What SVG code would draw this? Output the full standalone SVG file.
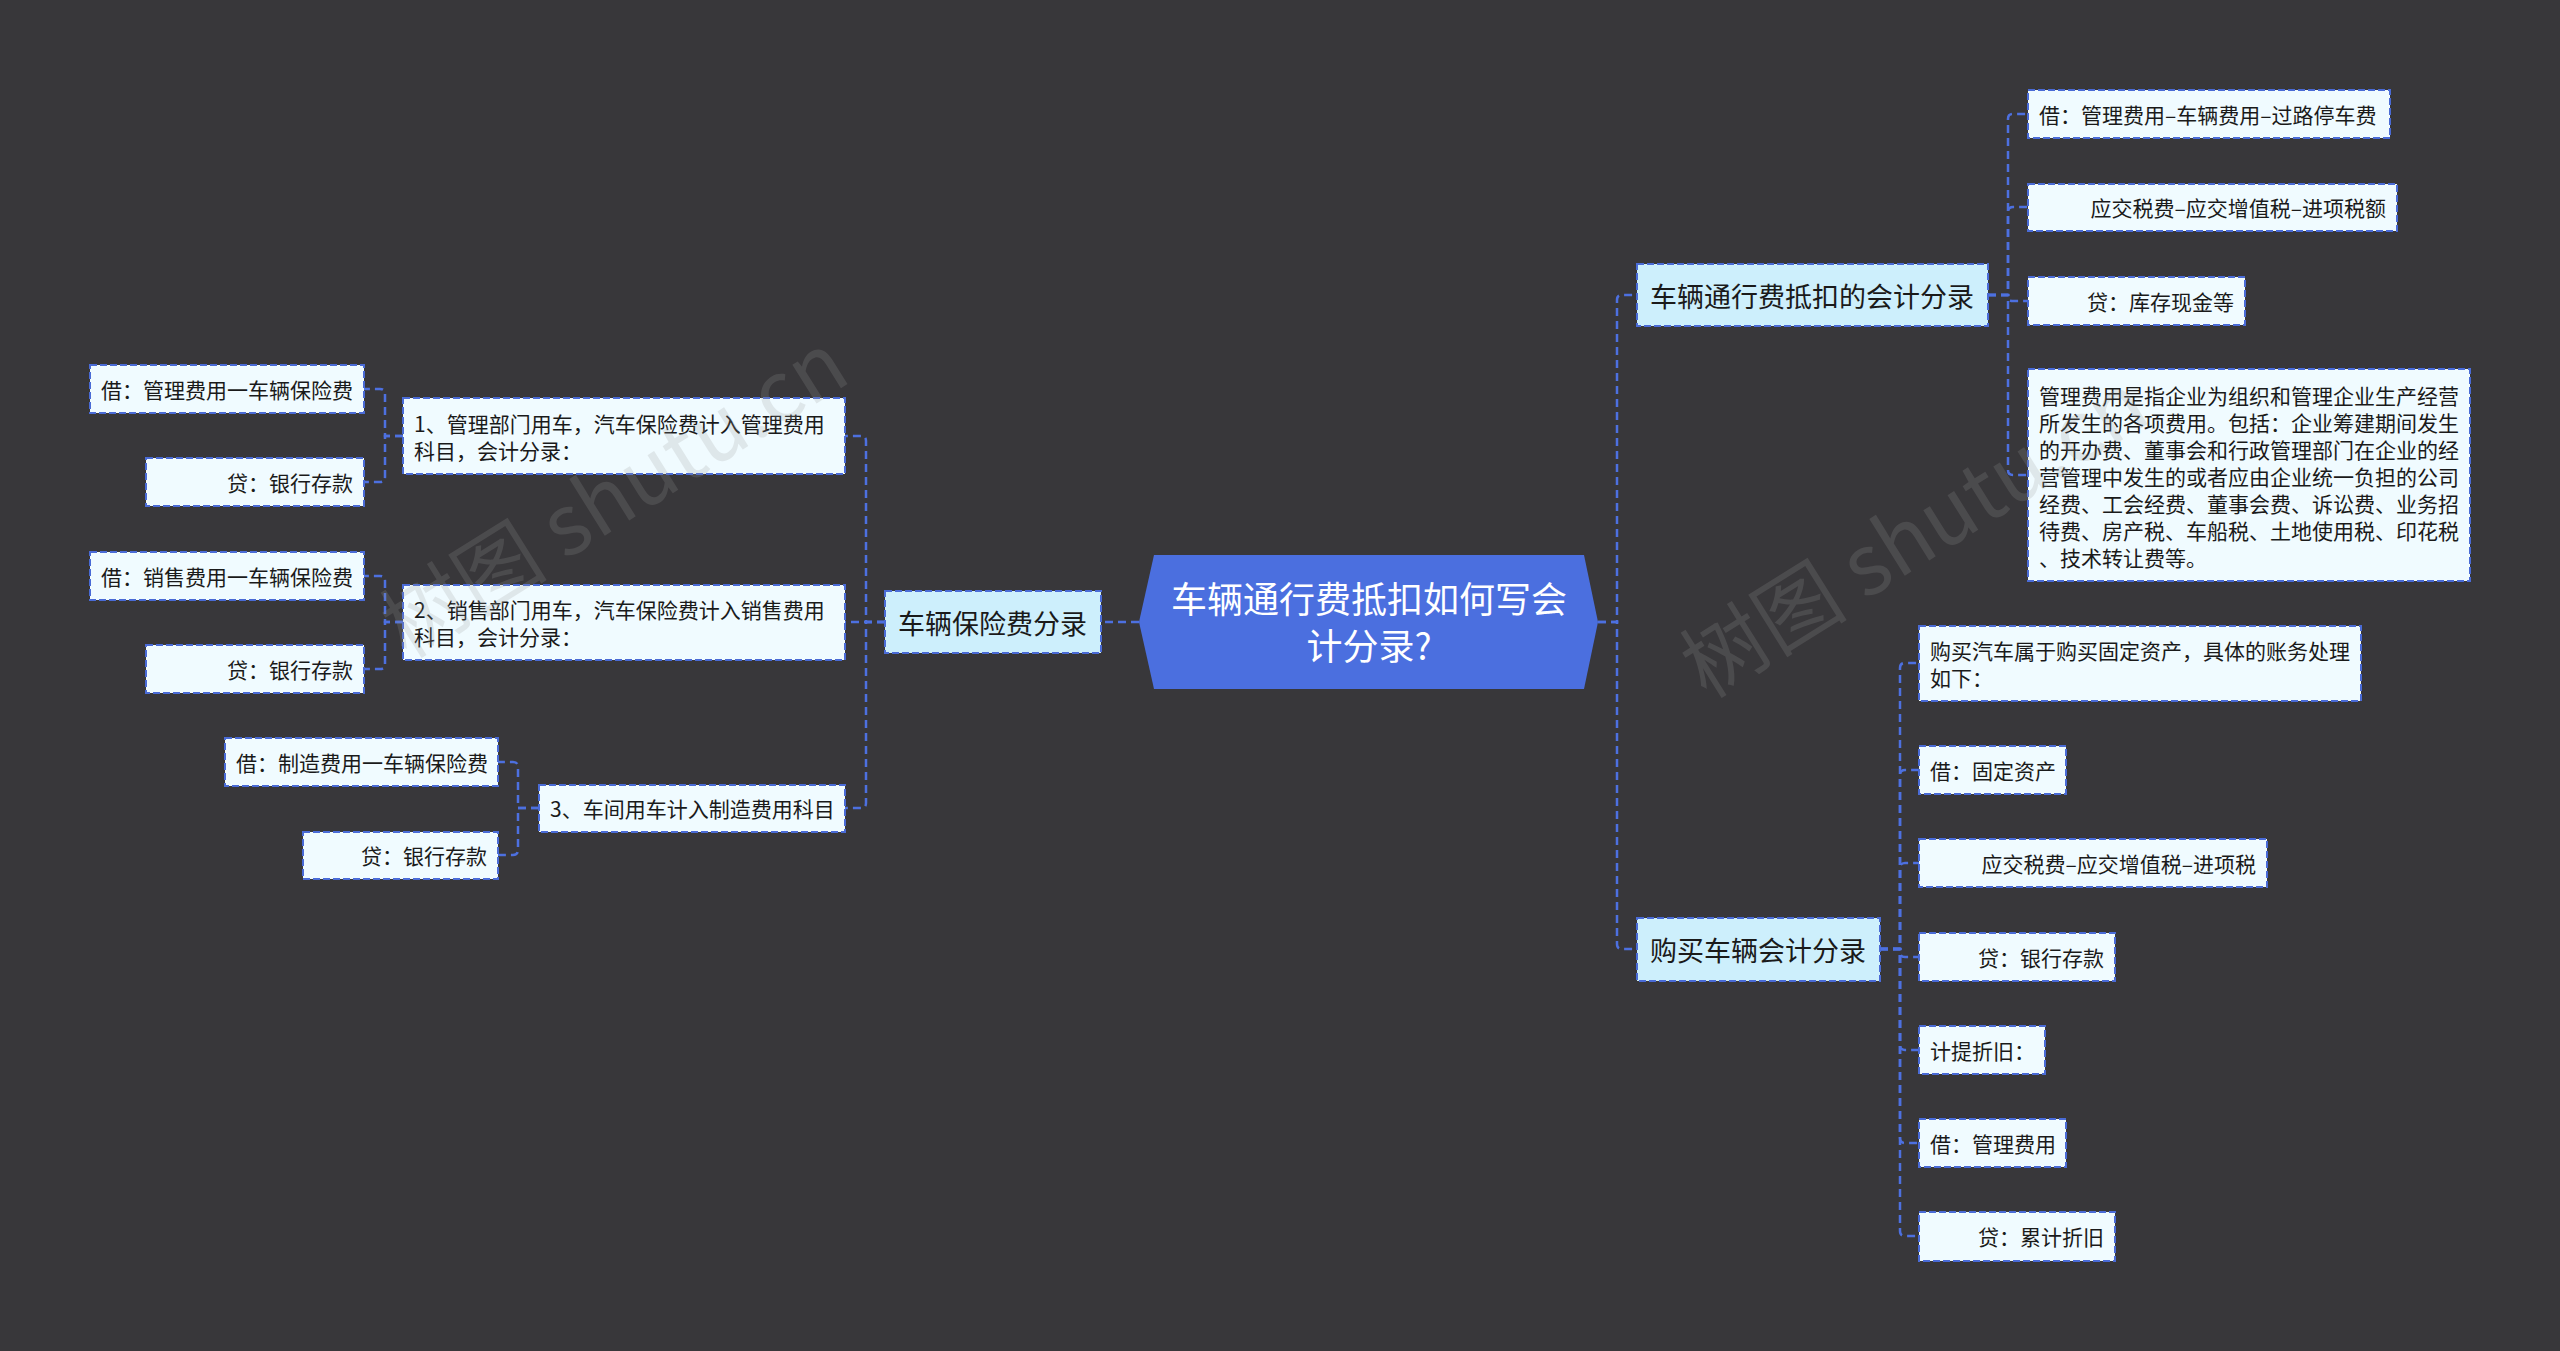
<svg xmlns="http://www.w3.org/2000/svg" width="2560" height="1351" viewBox="0 0 2560 1351">
<style>
.bg{fill:#38373a}
.leaf{fill:#f0fbff;stroke:#4a6bd6;stroke-width:2;stroke-dasharray:7 3}
.branch{fill:#cdeffc;stroke:#4a6bd6;stroke-width:2;stroke-dasharray:7 3}
.conn{fill:none;stroke:#4d70e0;stroke-width:2.5;stroke-dasharray:8 5}
.t{font-family:"Noto Sans CJK SC","Noto Sans",sans-serif;fill:#1a1a1a;dominant-baseline:central}
.tl{font-size:21px}
.tb{font-size:27px}
.tc{font-size:36px;fill:#ffffff;text-anchor:middle}
.end{text-anchor:end}
.wm{font-family:"Noto Sans CJK SC","Noto Sans",sans-serif;font-size:84px;fill:#9a9a9a;opacity:0.2}
</style>
<rect class="bg" x="0" y="0" width="2560" height="1351"/>

<g id="connectors">
  <path class="conn" d="M1598 622 H1617 V300 Q1617 295 1622 295 H1637"/>
  <path class="conn" d="M1598 622 H1617 V944 Q1617 949 1622 949 H1637"/>
  <path class="conn" d="M1988 295 H2008 V119 Q2008 114 2013 114 H2028"/>
  <path class="conn" d="M1988 295 H2008 V212 Q2008 207 2013 207 H2028"/>
  <path class="conn" d="M1988 295 H2008 V296 Q2008 301 2013 301 H2028"/>
  <path class="conn" d="M1988 295 H2008 V470 Q2008 475 2013 475 H2028"/>
  <path class="conn" d="M1880 949 H1900 V668 Q1900 663 1905 663 H1919"/>
  <path class="conn" d="M1880 949 H1900 V775 Q1900 770 1905 770 H1919"/>
  <path class="conn" d="M1880 949 H1900 V868 Q1900 863 1905 863 H1919"/>
  <path class="conn" d="M1880 949 H1900 V952 Q1900 957 1905 957 H1919"/>
  <path class="conn" d="M1880 949 H1900 V1045 Q1900 1050 1905 1050 H1919"/>
  <path class="conn" d="M1880 949 H1900 V1138 Q1900 1143 1905 1143 H1919"/>
  <path class="conn" d="M1880 949 H1900 V1231 Q1900 1236 1905 1236 H1919"/>
  <path class="conn" d="M1139 622 H1101"/>
  <path class="conn" d="M885 622 H866 V441 Q866 436 861 436 H845"/>
  <path class="conn" d="M885 622 H845"/>
  <path class="conn" d="M885 622 H866 V803 Q866 808 861 808 H845"/>
  <path class="conn" d="M403 436 H385 V394 Q385 389 380 389 H364"/>
  <path class="conn" d="M403 436 H385 V477 Q385 482 380 482 H364"/>
  <path class="conn" d="M403 622 H385 V581 Q385 576 380 576 H364"/>
  <path class="conn" d="M403 622 H385 V664 Q385 669 380 669 H364"/>
  <path class="conn" d="M539 808 H518 V767 Q518 762 513 762 H498"/>
  <path class="conn" d="M539 808 H518 V850 Q518 855 513 855 H498"/>
</g>

<g id="center">
  <polygon points="1154,555 1584,555 1598,622 1584,689 1154,689 1139,622" fill="#4b6fdf"/>
  <text class="t tc" x="1369" y="597">车辆通行费抵扣如何写会</text>
  <text class="t tc" x="1369" y="644">计分录?</text>
</g>

<g id="branch-insurance">
  <rect class="branch" x="885" y="591" width="216" height="62"/>
  <text class="t tb" x="898" y="622">车辆保险费分录</text>
</g>
<g id="ins-1">
  <rect class="leaf" x="403" y="398" width="442" height="76"/>
  <text class="t tl" x="414" y="423">1、管理部门用车，汽车保险费计入管理费用</text>
  <text class="t tl" x="414" y="450">科目，会计分录：</text>
</g>
<g id="ins-1a">
  <rect class="leaf" x="90" y="365" width="274" height="48"/>
  <text class="t tl" x="101" y="389">借：管理费用一车辆保险费</text>
</g>
<g id="ins-1b">
  <rect class="leaf" x="146" y="458" width="218" height="48"/>
  <text class="t tl end" x="353" y="482">贷：银行存款</text>
</g>
<g id="ins-2">
  <rect class="leaf" x="403" y="585" width="442" height="75"/>
  <text class="t tl" x="414" y="609">2、销售部门用车，汽车保险费计入销售费用</text>
  <text class="t tl" x="414" y="636">科目，会计分录：</text>
</g>
<g id="ins-2a">
  <rect class="leaf" x="90" y="552" width="274" height="48"/>
  <text class="t tl" x="101" y="576">借：销售费用一车辆保险费</text>
</g>
<g id="ins-2b">
  <rect class="leaf" x="146" y="645" width="218" height="48"/>
  <text class="t tl end" x="353" y="669">贷：银行存款</text>
</g>
<g id="ins-3">
  <rect class="leaf" x="539" y="785" width="306" height="47"/>
  <text class="t tl" x="550" y="808">3、车间用车计入制造费用科目</text>
</g>
<g id="ins-3a">
  <rect class="leaf" x="225" y="738" width="273" height="48"/>
  <text class="t tl" x="236" y="762">借：制造费用一车辆保险费</text>
</g>
<g id="ins-3b">
  <rect class="leaf" x="303" y="832" width="195" height="47"/>
  <text class="t tl end" x="487" y="855">贷：银行存款</text>
</g>

<g id="branch-toll">
  <rect class="branch" x="1637" y="264" width="351" height="62"/>
  <text class="t tb" x="1650" y="295">车辆通行费抵扣的会计分录</text>
</g>
<g id="toll-a">
  <rect class="leaf" x="2028" y="90" width="362" height="48"/>
  <text class="t tl" x="2039" y="114">借：管理费用–车辆费用–过路停车费</text>
</g>
<g id="toll-b">
  <rect class="leaf" x="2028" y="184" width="369" height="47"/>
  <text class="t tl end" x="2386" y="207">应交税费–应交增值税–进项税额</text>
</g>
<g id="toll-c">
  <rect class="leaf" x="2028" y="277" width="217" height="48"/>
  <text class="t tl end" x="2234" y="301">贷：库存现金等</text>
</g>
<g id="toll-d">
  <rect class="leaf" x="2028" y="369" width="442" height="212"/>
  <text class="t tl" x="2039" y="395">管理费用是指企业为组织和管理企业生产经营</text>
  <text class="t tl" x="2039" y="422">所发生的各项费用。包括：企业筹建期间发生</text>
  <text class="t tl" x="2039" y="449">的开办费、董事会和行政管理部门在企业的经</text>
  <text class="t tl" x="2039" y="476">营管理中发生的或者应由企业统一负担的公司</text>
  <text class="t tl" x="2039" y="503">经费、工会经费、董事会费、诉讼费、业务招</text>
  <text class="t tl" x="2039" y="530">待费、房产税、车船税、土地使用税、印花税</text>
  <text class="t tl" x="2039" y="557">、技术转让费等。</text>
</g>

<g id="branch-buy">
  <rect class="branch" x="1637" y="918" width="243" height="63"/>
  <text class="t tb" x="1650" y="949">购买车辆会计分录</text>
</g>
<g id="buy-a">
  <rect class="leaf" x="1919" y="626" width="442" height="75"/>
  <text class="t tl" x="1930" y="650">购买汽车属于购买固定资产，具体的账务处理</text>
  <text class="t tl" x="1930" y="677">如下：</text>
</g>
<g id="buy-b">
  <rect class="leaf" x="1919" y="746" width="147" height="48"/>
  <text class="t tl" x="1930" y="770">借：固定资产</text>
</g>
<g id="buy-c">
  <rect class="leaf" x="1919" y="839" width="348" height="48"/>
  <text class="t tl end" x="2256" y="863">应交税费–应交增值税–进项税</text>
</g>
<g id="buy-d">
  <rect class="leaf" x="1919" y="933" width="196" height="48"/>
  <text class="t tl end" x="2104" y="957">贷：银行存款</text>
</g>
<g id="buy-e">
  <rect class="leaf" x="1919" y="1026" width="126" height="48"/>
  <text class="t tl" x="1930" y="1050">计提折旧：</text>
</g>
<g id="buy-f">
  <rect class="leaf" x="1919" y="1119" width="147" height="48"/>
  <text class="t tl" x="1930" y="1143">借：管理费用</text>
</g>
<g id="buy-g">
  <rect class="leaf" x="1919" y="1212" width="196" height="49"/>
  <text class="t tl end" x="2104" y="1236">贷：累计折旧</text>
</g>

<g id="watermark">
  <text class="wm" x="0" y="0" text-anchor="middle" transform="translate(630 520) rotate(-32)">树图 shutu.cn</text>
  <text class="wm" x="0" y="0" text-anchor="middle" transform="translate(1930 560) rotate(-32)">树图 shutu.cn</text>
</g>
</svg>
